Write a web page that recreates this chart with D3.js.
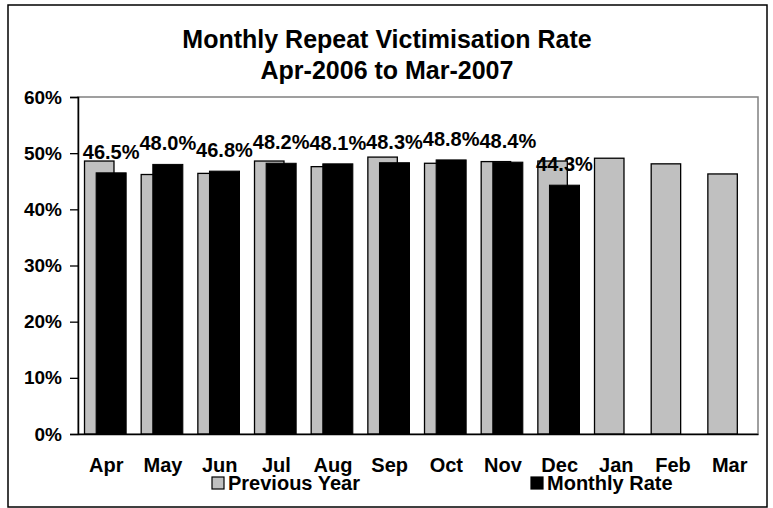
<!DOCTYPE html>
<html>
<head>
<meta charset="utf-8">
<script src="https://cdn.jsdelivr.net/npm/d3@7"></script>
<style>
  body { margin: 0; background: #fff; }
  text { font-family: "Liberation Sans", Arial, sans-serif; font-weight: bold; fill: #000; }
</style>
</head>
<body>
<div id="svgDiv"></div>
<script>
// chart data
var months = ["Apr", "May", "Jun", "Jul", "Aug", "Sep", "Oct", "Nov", "Dec", "Jan", "Feb", "Mar"];
var previousYear = [48.6, 46.2, 46.4, 48.6, 47.6, 49.3, 48.2, 48.5, 48.6, 49.1, 48.1, 46.3];
var monthlyRate = [46.5, 48.0, 46.8, 48.2, 48.1, 48.3, 48.8, 48.4, 44.3];
var yTicks = [0, 10, 20, 30, 40, 50, 60];
var titleLines = ["Monthly Repeat Victimisation Rate", "Apr-2006 to Mar-2007"];

var svgWidth = 773, svgHeight = 508;
var plotLeft = 78, plotRight = 758, plotTop = 97, plotBottom = 434;

var svg = d3.select("#svgDiv")
    .append("svg")
    .attr("width", svgWidth)
    .attr("height", svgHeight);

// outer chart border
svg.append("rect")
    .attr("x", 8).attr("y", 5)
    .attr("width", 759).attr("height", 502)
    .attr("fill", "#fff")
    .attr("stroke", "#000")
    .attr("stroke-width", 1.5);

// title
svg.selectAll(".title")
    .data(titleLines)
    .enter().append("text")
    .attr("class", "title")
    .attr("x", 387)
    .attr("y", (d, i) => 48 + i * 31)
    .attr("text-anchor", "middle")
    .style("font-size", "25px")
    .text(d => d);

var xScale = d3.scaleBand()
    .domain(months)
    .range([plotLeft, plotRight]);

var yScale = d3.scaleLinear()
    .domain([0, 60])
    .range([plotBottom, plotTop]);

var bw = xScale.bandwidth();

// plot area frame (grey top/right)
svg.append("rect")
    .attr("x", plotLeft).attr("y", plotTop)
    .attr("width", plotRight - plotLeft).attr("height", plotBottom - plotTop)
    .attr("fill", "none")
    .attr("stroke", "#808080")
    .attr("stroke-width", 1.5);

// previous year bars (grey)
svg.selectAll(".prev")
    .data(previousYear)
    .enter().append("rect")
    .attr("class", "prev")
    .attr("x", (d, i) => xScale(months[i]) + bw * 0.115)
    .attr("y", d => yScale(d))
    .attr("width", bw * 0.52)
    .attr("height", d => yScale(0) - yScale(d))
    .attr("fill", "#c0c0c0")
    .attr("stroke", "#000")
    .attr("stroke-width", 1.3);

// monthly rate bars (black)
svg.selectAll(".rate")
    .data(monthlyRate)
    .enter().append("rect")
    .attr("class", "rate")
    .attr("x", (d, i) => xScale(months[i]) + bw * 0.32)
    .attr("y", d => yScale(d))
    .attr("width", bw * 0.53)
    .attr("height", d => yScale(0) - yScale(d))
    .attr("fill", "#000")
    .attr("stroke", "#000")
    .attr("stroke-width", 1);

// data labels on monthly rate
svg.selectAll(".lbl")
    .data(monthlyRate)
    .enter().append("text")
    .attr("class", "lbl")
    .attr("x", (d, i) => xScale(months[i]) + bw * 0.32 + bw * 0.265)
    .attr("y", d => yScale(d) - 14)
    .attr("text-anchor", "middle")
    .style("font-size", "20px")
    .text(d => d.toFixed(1) + "%");

// y axis
var yAxis = svg.append("g")
    .attr("transform", "translate(" + plotLeft + ",0)")
    .call(d3.axisLeft(yScale)
        .tickValues(yTicks)
        .tickSize(8)
        .tickPadding(8)
        .tickFormat(d => d + "%"));
yAxis.select(".domain").attr("stroke", "#000").attr("stroke-width", 1.5);
yAxis.selectAll(".tick line").attr("stroke", "#000").attr("stroke-width", 1.3);
yAxis.selectAll(".tick text")
    .style("font-size", "19px")
    .style("font-family", "'Liberation Sans', Arial, sans-serif")
    .style("font-weight", "bold");

// x axis
var xAxis = svg.append("g")
    .attr("transform", "translate(0," + plotBottom + ")")
    .call(d3.axisBottom(xScale).tickSize(0).tickPadding(24));
xAxis.select(".domain").attr("stroke", "#000").attr("stroke-width", 1.5);
xAxis.selectAll(".tick text")
    .style("font-size", "20px")
    .style("font-family", "'Liberation Sans', Arial, sans-serif")
    .style("font-weight", "bold");

// legend
var legendItems = [
    {name: "Previous Year", color: "#c0c0c0", x: 212},
    {name: "Monthly Rate", color: "#000", x: 531}
];
var legend = svg.selectAll(".legend")
    .data(legendItems)
    .enter().append("g")
    .attr("class", "legend");
legend.append("rect")
    .attr("x", d => d.x).attr("y", 477)
    .attr("width", 12).attr("height", 12)
    .attr("fill", d => d.color)
    .attr("stroke", "#000")
    .attr("stroke-width", 1.2);
legend.append("text")
    .attr("x", d => d.x + 16)
    .attr("y", 490)
    .style("font-size", "20px")
    .text(d => d.name);
</script>
</body>
</html>
